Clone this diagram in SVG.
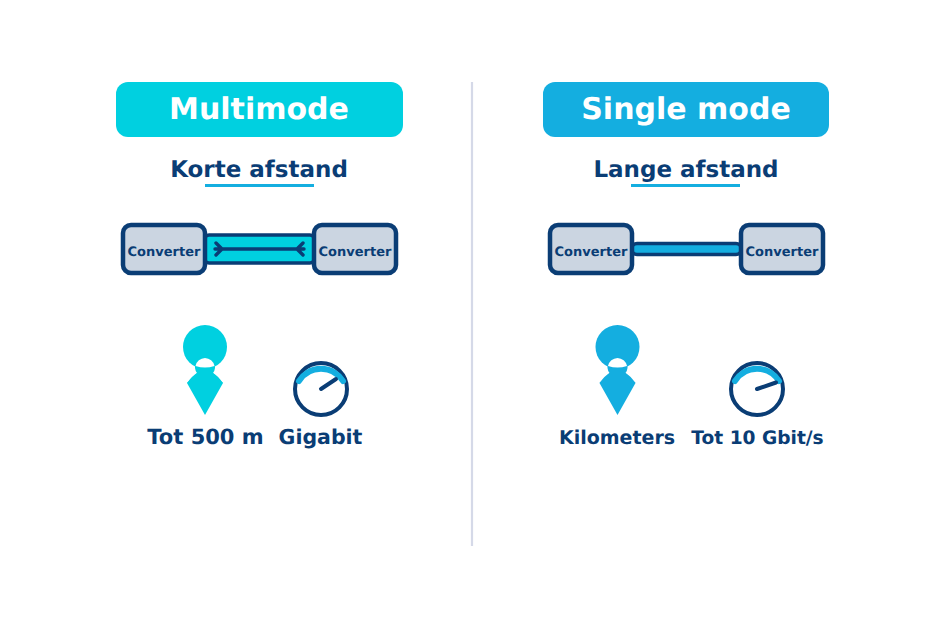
<svg xmlns="http://www.w3.org/2000/svg" width="945" height="630" viewBox="0 0 945 630">
<style>
text{font-family:"DejaVu Sans",sans-serif;font-weight:700;text-anchor:middle;fill:#0a3d75;text-rendering:geometricPrecision}
.title{font-size:30px;fill:#fff}
.sub{font-size:23px}
.lab{font-size:19px}
.conv{font-size:13px}
.box{fill:#cbd5e1;stroke:#0a3d75;stroke-width:4.500}
.dark{fill:none;stroke:#0a3d75;stroke-linecap:round;stroke-linejoin:round}
.cy{fill:#00d0e0}
.bl{fill:#14aee0}
.arc{fill:none;stroke:#14aee0;stroke-width:6;stroke-linecap:round}
.ring{fill:#fff;stroke:#0a3d75;stroke-width:4}
</style>
<rect width="945" height="630" fill="#fff"/>
<line x1="472" y1="82" x2="472" y2="546" stroke="#d5d9e8" stroke-width="2.200"/>
<g id="connectors">
<rect x="205" y="235" width="109" height="28" rx="4" fill="#00d0e0" stroke="#0a3d75" stroke-width="3.400"/>
<path class="dark" stroke-width="3.400" d="M215 249H304M216 243L222 249L216 255M303 243L297 249L303 255"/>
<rect x="632" y="243.500" width="109" height="11" rx="5" fill="#14aee0" stroke="#0a3d75" stroke-width="3.400"/>
</g>
<g id="header-multimode"><rect x="116" y="82" width="287" height="55" rx="12" class="cy"/><text x="259" y="119" class="title">Multimode</text></g>
<g id="header-singlemode"><rect x="543" y="82" width="286" height="55" rx="12" class="bl"/><text x="686" y="119" class="title">Single mode</text></g>
<g id="sub-korte"><text x="259" y="177" class="sub">Korte afstand</text><rect x="205" y="184" width="109" height="3" fill="#14aee0"/></g>
<g id="sub-lange"><text x="686" y="177" class="sub">Lange afstand</text><rect x="631" y="184" width="109" height="3" fill="#14aee0"/></g>
<g id="conv-1"><rect x="123" y="225" width="82" height="48" rx="8" class="box"/><text x="164" y="256" class="conv">Converter</text></g>
<g id="conv-2"><rect x="314" y="225" width="82" height="48" rx="8" class="box"/><text x="355" y="256" class="conv">Converter</text></g>
<g id="conv-3"><rect x="550" y="225" width="82" height="48" rx="8" class="box"/><text x="591" y="256" class="conv">Converter</text></g>
<g id="conv-4"><rect x="741" y="225" width="82" height="48" rx="8" class="box"/><text x="782" y="256" class="conv">Converter</text></g>
<defs>
<g id="pin"><circle cx="0" cy="347" r="22"/><path d="M-10 367A10 10 0 0 1 0 357A10 10 0 0 1 10 367V368A10 10 0 0 1 8 373L18 383L0 415L-18 383L-8 373A10 10 0 0 1 -10 368Z"/><path d="M-18 383Q-12 375 -8 373H8Q12 375 18 383Z"/><path fill="#fff" d="M-9.500 366A10 10 0 0 1 0 358A10 10 0 0 1 9.500 366Q0 369 -9.500 366Z"/></g>
</defs>
<g id="pin-left" class="cy"><use href="#pin" x="205"/><text x="205.500" y="444" class="lab" style="fill:#0a3d75;font-size:21px">Tot 500 m</text></g>
<g id="pin-right" class="bl"><use href="#pin" x="617.500"/><text x="617" y="444" class="lab" style="fill:#0a3d75">Kilometers</text></g>
<g id="gauge-left"><circle cx="321" cy="389" r="26" class="ring"/><path d="M299 381A26 26 0 0 1 343 381" class="arc"/><path class="dark" stroke-width="4" d="M321 389L336 379"/><text x="320.500" y="444" class="lab" style="font-size:20.500px">Gigabit</text></g>
<g id="gauge-right"><circle cx="757" cy="389" r="26" class="ring"/><path d="M735 381A26 26 0 0 1 779 381" class="arc"/><path class="dark" stroke-width="4" d="M757 389L776 382.500"/><text x="757.500" y="444" class="lab" style="font-size:18.600px">Tot 10 Gbit/s</text></g>
</svg>
